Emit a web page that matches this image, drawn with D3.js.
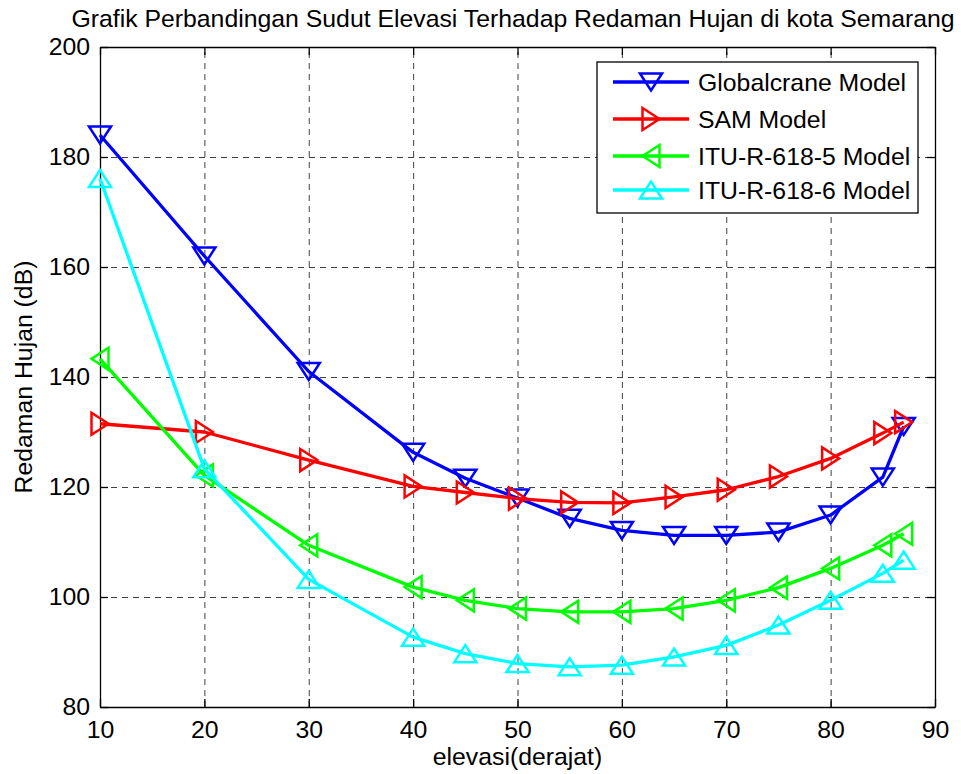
<!DOCTYPE html>
<html>
<head>
<meta charset="utf-8">
<script src="https://cdn.jsdelivr.net/npm/d3@7"></script>
<style>
  body { margin: 0; background: #fff; }
  svg text { font-family: "Liberation Sans", Arial, Helvetica, sans-serif; fill: #000; }
  .grid line { stroke: #000; stroke-dasharray: 6,5; stroke-opacity: 0.75; }
  .grid path { display: none; }
  .axis path, .axis line { stroke: #000; stroke-width: 1.3; }
</style>
</head>
<body>
<div id="chart"></div>
<script>
// elevation angles (derajat)
const elevasi = [10, 20, 30, 40, 45, 50, 55, 60, 65, 70, 75, 80, 85, 87]

// rain attenuation (dB) per model
const globalcrane = [184, 162, 141, 126.3, 121.6, 118, 114.3, 112.1, 111.2, 111.2, 111.8, 114.9, 121.8, 131]
const sam = [131.5, 130, 124.9, 120.1, 119, 117.9, 117.2, 117.1, 118.2, 119.5, 121.9, 125.2, 129.8, 131.8]
const itu5 = [143.3, 122.1, 109.4, 101.8, 99.4, 97.9, 97.3, 97.3, 97.9, 99.4, 101.7, 105.2, 109.4, 111.5]
const itu6 = [176.1, 123.3, 103.2, 92.7, 89.7, 87.9, 87.3, 87.6, 89.1, 91.2, 94.9, 99.4, 104.3, 106.7]

const seriesNames = ["Globalcrane Model", "SAM Model", "ITU-R-618-5 Model", "ITU-R-618-6 Model"]
const seriesColors = ["#0000ff", "#ff0000", "#00ff00", "#00ffff"]
const seriesMarkers = ["down", "right", "left", "up"]

const xTicks = [10, 20, 30, 40, 50, 60, 70, 80, 90]
const yTicks = [80, 100, 120, 140, 160, 180, 200]

const width = 961, height = 774
const margin = {left: 100, right: 26, top: 47, bottom: 67}
const fontSize = 24.8

const series = seriesNames.map((name, i) => ({
    name,
    color: seriesColors[i],
    marker: seriesMarkers[i],
    values: [globalcrane, sam, itu5, itu6][i].map((v, j) => ({x: elevasi[j], y: v}))
}))

const x = d3.scaleLinear().domain([10, 90]).range([margin.left, width - margin.right])
const y = d3.scaleLinear().domain([80, 200]).range([height - margin.bottom, margin.top])

const svg = d3.select('#chart').append('svg')
    .attr('width', width)
    .attr('height', height)
    .attr('font-size', fontSize)

const plotW = x.range()[1] - x.range()[0]
const plotH = y.range()[0] - y.range()[1]

// dashed grid
svg.append('g')
    .attr('class', 'grid')
    .attr('transform', `translate(0, ${y.range()[0]})`)
    .call(d3.axisBottom(x).tickValues(xTicks).tickSize(-plotH).tickFormat(''))
svg.append('g')
    .attr('class', 'grid')
    .attr('transform', `translate(${x.range()[0]}, 0)`)
    .call(d3.axisLeft(y).tickValues(yTicks).tickSize(-plotW).tickFormat(''))

// axes with inward ticks
svg.append('g')
    .attr('class', 'axis')
    .attr('transform', `translate(0, ${y.range()[0]})`)
    .call(d3.axisBottom(x).tickValues(xTicks).tickSizeInner(-8).tickSizeOuter(0).tickPadding(13))
svg.append('g')
    .attr('class', 'axis')
    .attr('transform', `translate(0, ${y.range()[1]})`)
    .call(d3.axisTop(x).tickValues(xTicks).tickSizeInner(-8).tickSizeOuter(0).tickFormat(''))
svg.append('g')
    .attr('class', 'axis')
    .attr('transform', `translate(${x.range()[0]}, 0)`)
    .call(d3.axisLeft(y).tickValues(yTicks).tickSizeInner(-8).tickSizeOuter(0).tickPadding(10))
svg.append('g')
    .attr('class', 'axis')
    .attr('transform', `translate(${x.range()[1]}, 0)`)
    .call(d3.axisRight(y).tickValues(yTicks).tickSizeInner(-8).tickSizeOuter(0).tickFormat(''))

svg.selectAll('.axis, .grid')
    .attr('font-size', fontSize)
    .attr('font-family', null)

// marker paths, centred on the point
const markerPath = (type, s) => {
    const w = s * 0.65, h = s * 0.5
    if (type === 'down') return `M${-w},${-h}L${w},${-h}L0,${h}Z`
    if (type === 'up') return `M${-w},${h}L${w},${h}L0,${-h}Z`
    if (type === 'right') return `M${-h},${-w}L${-h},${w}L${h},0Z`
    return `M${h},${-w}L${h},${w}L${-h},0Z`
}

const line = d3.line(d => x(d.x), d => y(d.y))

const groups = svg.selectAll('.series')
    .data(series)
    .join('g')
    .attr('class', 'series')

groups.append('path')
    .attr('d', d => line(d.values))
    .attr('fill', 'none')
    .attr('stroke', d => d.color)
    .attr('stroke-width', 3.3)
    .attr('stroke-linejoin', 'round')

groups.each(function(s) {
    d3.select(this).selectAll('path.marker')
        .data(s.values)
        .join('path')
        .attr('class', 'marker')
        .attr('d', markerPath(s.marker, 17))
        .attr('transform', d => `translate(${x(d.x)}, ${y(d.y)})`)
        .attr('fill', 'none')
        .attr('stroke', s.color)
        .attr('stroke-width', 2.5)
})

// legend
const legend = svg.append('g').attr('transform', 'translate(597, 62)')
legend.append('rect')
    .attr('width', 321)
    .attr('height', 151)
    .attr('fill', '#fff')
    .attr('stroke', '#000')
    .attr('stroke-width', 1.3)

const rowY = [20, 57, 94, 128]
const items = legend.selectAll('.item')
    .data(series)
    .join('g')
    .attr('class', 'item')
    .attr('transform', (d, i) => `translate(0, ${rowY[i]})`)
items.append('line')
    .attr('x1', 16).attr('x2', 92)
    .attr('stroke', d => d.color)
    .attr('stroke-width', 3.3)
items.append('path')
    .attr('d', d => markerPath(d.marker, 17))
    .attr('transform', 'translate(54, 0)')
    .attr('fill', 'none')
    .attr('stroke', d => d.color)
    .attr('stroke-width', 2.5)
items.append('text')
    .attr('x', 101)
    .attr('dy', '0.35em')
    .text(d => d.name)

// titles
svg.append('text')
    .attr('x', 513)
    .attr('y', 27)
    .attr('text-anchor', 'middle')
    .text('Grafik Perbandingan Sudut Elevasi Terhadap Redaman Hujan di kota Semarang')

svg.append('text')
    .attr('x', (x.range()[0] + x.range()[1]) / 2)
    .attr('y', 765)
    .attr('text-anchor', 'middle')
    .text('elevasi(derajat)')

svg.append('text')
    .attr('transform', `translate(32, ${(y.range()[0] + y.range()[1]) / 2}) rotate(-90)`)
    .attr('text-anchor', 'middle')
    .text('Redaman Hujan (dB)')
</script>
</body>
</html>
